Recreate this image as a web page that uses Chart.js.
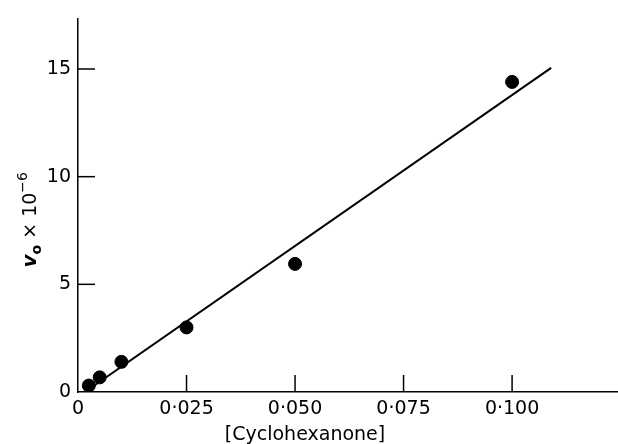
<!DOCTYPE html>
<html><head><meta charset="utf-8">
<script src="https://cdn.jsdelivr.net/npm/chart.js@4/dist/chart.umd.min.js"></script>
<style>html,body{margin:0;padding:0;background:#fff;}#wrap{width:618px;height:444px;}</style>
</head><body><div id="wrap"><canvas id="c" width="618" height="444"></canvas></div>
<script>
// Data
const concX = [0.0025, 0.005, 0.01, 0.025, 0.05, 0.1];
const rateY = [0.3, 0.68, 1.4, 3.0, 5.95, 14.4];
const fitX = [0.0016, 0.109];
const fitY = [0, 15.05];
const xTickValues = [0, 0.025, 0.05, 0.075, 0.1];
const xTickLabels = ['0', '0·025', '0·050', '0·075', '0·100'];
const yTickValues = [0, 5, 10, 15];
const yTickLabels = ['0', '5', '10', '15'];
const xTitle = '[Cyclohexanone]';

const FONT = '"DejaVu Sans", sans-serif';

const innerTicks = {
  id: 'innerTicks',
  afterDraw(chart) {
    const ctx = chart.ctx, xs = chart.scales.x, ys = chart.scales.y;
    ctx.save();
    ctx.strokeStyle = '#000'; ctx.lineWidth = 1.5;
    xTickValues.forEach(v => { if (v === 0) return;
      const px = xs.getPixelForValue(v);
      ctx.beginPath(); ctx.moveTo(px, ys.bottom); ctx.lineTo(px, ys.bottom - 17); ctx.stroke(); });
    yTickValues.forEach(v => { if (v === 0) return;
      const py = ys.getPixelForValue(v);
      ctx.beginPath(); ctx.moveTo(xs.left, py); ctx.lineTo(xs.left + 17, py); ctx.stroke(); });
    // x title
    ctx.fillStyle = '#000';
    ctx.font = '19px ' + FONT;
    ctx.textAlign = 'center'; ctx.textBaseline = 'middle';
    ctx.fillText(xTitle, xs.getPixelForValue(0.0523), 435);
    // y title (rotated) v_o x 10^-6
    ctx.translate(29, ys.getPixelForValue(8.0));
    ctx.rotate(-Math.PI / 2);
    ctx.textAlign = 'left'; ctx.textBaseline = 'alphabetic';
    const parts = [
      {t: 'v', f: 'italic bold 20px ' + FONT, dy: 0},
      {t: 'o', f: 'bold 14px ' + FONT, dy: 5},
      {t: ' × 10', f: '19px ' + FONT, dy: 0},
      {t: '−6', f: '14px ' + FONT, dy: -9}
    ];
    let w = 0;
    parts.forEach(p => { ctx.font = p.f; p.w = ctx.measureText(p.t).width; w += p.w; });
    let x0 = -w / 2;
    parts.forEach(p => { ctx.font = p.f; ctx.fillText(p.t, x0, 7 + p.dy); x0 += p.w; });
    ctx.restore();
  }
};

new Chart(document.getElementById('c'), {
  type: 'scatter',
  data: {
    datasets: [
      { type: 'line', data: fitX.map((x, i) => ({x, y: fitY[i]})), borderColor: '#000', borderWidth: 2,
        pointRadius: 0, fill: false, order: 2 },
      { data: concX.map((x, i) => ({x, y: rateY[i]})), backgroundColor: '#000', borderColor: '#000',
        pointRadius: 6.5, pointHoverRadius: 6.5, order: 1 }
    ]
  },
  plugins: [innerTicks],
  options: {
    responsive: false, animation: false,
    layout: { autoPadding: false, padding: { top: 13, right: 0, left: 0, bottom: 0 } },
    plugins: { legend: { display: false }, tooltip: { enabled: false } },
    scales: {
      x: {
        type: 'linear', min: 0, max: 0.1244,
        afterBuildTicks(s) { s.ticks = xTickValues.map(v => ({value: v})); },
        afterFit(s) { s.height = 52; },
        grid: { display: false, drawTicks: false },
        border: { display: true, color: '#000', width: 1.5 },
        ticks: { color: '#000', font: { family: FONT, size: 19 }, padding: 6, maxRotation: 0, autoSkip: false,
          callback: (v) => { const i = xTickValues.indexOf(v); return i >= 0 ? xTickLabels[i] : ''; } }
      },
      y: {
        type: 'linear', min: 0, max: 17.35,
        afterBuildTicks(s) { s.ticks = yTickValues.map(v => ({value: v})); },
        afterFit(s) { s.width = 78; },
        grid: { display: false, drawTicks: false },
        border: { display: true, color: '#000', width: 1.5 },
        ticks: { color: '#000', font: { family: FONT, size: 19 }, padding: 7, autoSkip: false,
          callback: (v) => { const i = yTickValues.indexOf(v); return i >= 0 ? yTickLabels[i] : ''; } }
      }
    }
  }
});
</script></body></html>
